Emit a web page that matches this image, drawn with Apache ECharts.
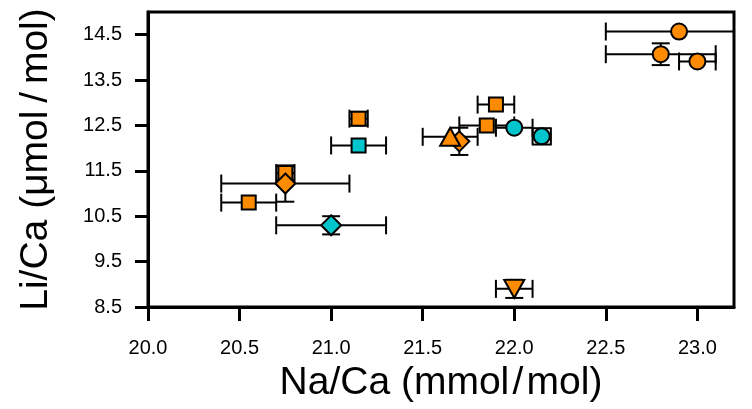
<!DOCTYPE html>
<html>
<head>
<meta charset="utf-8">
<script src="https://cdn.jsdelivr.net/npm/echarts@6/dist/echarts.min.js"></script>
<style>
html,body{margin:0;padding:0;background:#fff;}
#chart{width:752px;height:409px;}
</style>
</head>
<body>
<div id="chart"></div>
<script>
// Each row: [Na/Ca, Li/Ca, Na/Ca error (±), Li/Ca error (±)]
const orangeCircles   = [[22.90, 14.57, 0.40, 0.00], [22.80, 14.07, 0.30, 0.24], [23.00, 13.91, 0.10, 0.00]];
const orangeSquares   = [[21.15, 12.65, 0.05, 0.15], [20.75, 11.45, 0.05, 0.15], [20.55, 10.80, 0.15, 0.00], [21.90, 12.96, 0.10, 0.00], [21.85, 12.50, 0.15, 0.00]];
const orangeDiamonds  = [[20.75, 11.22, 0.35, 0.40], [21.70, 12.15, 0.00, 0.30]];
const orangeTriUp     = [[21.65, 12.25, 0.15, 0.00]];
const orangeTriDown   = [[22.00, 8.90, 0.10, 0.20]];
const cyanCircles     = [[22.00, 12.45, 0.10, 0.00], [22.15, 12.26, 0.05, 0.18]];
const cyanSquares     = [[21.15, 12.06, 0.15, 0.00]];
const cyanDiamonds    = [[21.00, 10.30, 0.30, 0.20]];

const xTicks = [20.0, 20.5, 21.0, 21.5, 22.0, 22.5, 23.0];
const yTicks = [8.5, 9.5, 10.5, 11.5, 12.5, 13.5, 14.5];
const xRange = [20, 23.2];
const yRange = [8.5, 15];

const ORANGE = '#FF8C00';
const CYAN = '#00C5CD';
const FONT = '"Liberation Sans", Arial, Helvetica, sans-serif';

const allPoints = [].concat(orangeCircles, orangeSquares, orangeDiamonds, orangeTriUp,
  orangeTriDown, cyanCircles, cyanSquares, cyanDiamonds);

const CAP = 9;
const lineStyle = {stroke: '#000', lineWidth: 2};
function renderErr(params, api) {
  const x = api.value(0), y = api.value(1), ex = api.value(2), ey = api.value(3);
  const ch = [];
  if (ex > 0) {
    const a = api.coord([x - ex, y]), b = api.coord([x + ex, y]);
    ch.push({type: 'line', shape: {x1: a[0], y1: a[1], x2: b[0], y2: b[1]}, style: lineStyle});
    ch.push({type: 'line', shape: {x1: a[0], y1: a[1] - CAP, x2: a[0], y2: a[1] + CAP}, style: lineStyle});
    ch.push({type: 'line', shape: {x1: b[0], y1: b[1] - CAP, x2: b[0], y2: b[1] + CAP}, style: lineStyle});
  }
  if (ey > 0) {
    const a = api.coord([x, y - ey]), b = api.coord([x, y + ey]);
    ch.push({type: 'line', shape: {x1: a[0], y1: a[1], x2: b[0], y2: b[1]}, style: lineStyle});
    ch.push({type: 'line', shape: {x1: a[0] - CAP, y1: a[1], x2: a[0] + CAP, y2: a[1]}, style: lineStyle});
    ch.push({type: 'line', shape: {x1: b[0] - CAP, y1: b[1], x2: b[0] + CAP, y2: b[1]}, style: lineStyle});
  }
  return {type: 'group', children: ch};
}

function scatter(data, symbol, size, color, rotate) {
  return {
    type: 'scatter', data: data, symbol: symbol, symbolSize: size, symbolRotate: rotate || 0,
    itemStyle: {color: color, borderColor: '#000', borderWidth: 2, opacity: 1},
    emphasis: {disabled: true}, silent: true, z: 3
  };
}

const chart = echarts.init(document.getElementById('chart'), null, {renderer: 'canvas'});
chart.setOption({
  animation: false,
  backgroundColor: '#fff',
  grid: {left: 148, right: 18, top: 12, bottom: 102, outerBoundsMode: 'none', containLabel: false,
         show: true, borderColor: '#000', borderWidth: 3, backgroundColor: 'transparent'},
  xAxis: {
    type: 'value', min: xRange[0], max: xRange[1],
    name: 'Na/Ca (mmol\u200a/\u200amol)', nameLocation: 'middle', nameGap: 57,
    nameTextStyle: {fontSize: 39, color: '#000', fontFamily: FONT},
    axisLine: {show: true, onZero: false, lineStyle: {color: '#000', width: 3}},
    axisTick: {show: true, inside: false, length: 14, customValues: xTicks, lineStyle: {color: '#000', width: 3}},
    axisLabel: {customValues: xTicks, formatter: v => Number(v).toFixed(1), fontSize: 20, color: '#000', fontFamily: FONT, margin: 31},
    splitLine: {show: false}
  },
  yAxis: {
    type: 'value', min: yRange[0], max: yRange[1],
    name: 'Li/Ca (\u03bcmol\u2009/\u2009mol)', nameLocation: 'middle', nameGap: 92,
    nameTextStyle: {fontSize: 39, color: '#000', fontFamily: FONT},
    axisLine: {show: true, onZero: false, lineStyle: {color: '#000', width: 3}},
    axisTick: {show: true, inside: false, length: 13, customValues: yTicks, lineStyle: {color: '#000', width: 3}},
    axisLabel: {customValues: yTicks, formatter: v => Number(v).toFixed(1), fontSize: 20, color: '#000', fontFamily: FONT, margin: 26},
    splitLine: {show: false}
  },
  series: [
    {type: 'custom', data: allPoints, renderItem: renderErr, clip: true, silent: true, z: 2},
    scatter(orangeSquares, 'rect', 14, ORANGE),
    scatter(cyanSquares, 'rect', 14, CYAN),
    scatter(orangeCircles, 'circle', 16, ORANGE),
    scatter(cyanCircles, 'circle', 16, CYAN),
    scatter(orangeDiamonds, 'diamond', 20, ORANGE),
    scatter(cyanDiamonds, 'diamond', 20, CYAN),
    scatter(orangeTriUp, 'triangle', [20, 18], ORANGE),
    scatter(orangeTriDown, 'triangle', [20, 18], ORANGE, 180)
  ]
});
</script>
</body>
</html>
